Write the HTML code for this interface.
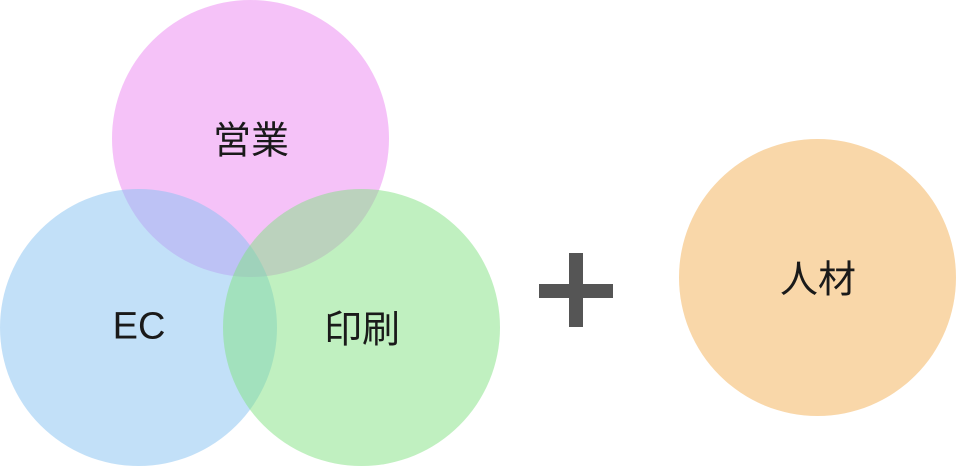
<!DOCTYPE html>
<html><head><meta charset="utf-8"><style>
html,body{margin:0;padding:0;background:#fff;width:956px;height:466px;overflow:hidden;position:relative}
.c{position:absolute;border-radius:50%;width:277px;height:277px}
.t{position:absolute;font-family:"Liberation Sans","Noto Sans CJK JP",sans-serif;font-size:38px;color:#1a1a1a;transform:translate(-50%,-50%);white-space:nowrap}
.b{position:absolute;background:#555}
</style></head><body>
<div class="c" style="left:112px;top:0;background:rgba(235,133,241,0.5)"></div>
<div class="c" style="left:0;top:189px;background:rgba(133,193,241,0.5)"></div>
<div class="c" style="left:223px;top:189px;background:rgba(129,225,129,0.5)"></div>
<div class="c" style="left:679px;top:139px;background:#f9d7a9"></div>
<div class="b" style="left:539px;top:284px;width:74px;height:14px"></div>
<div class="b" style="left:569px;top:253px;width:14px;height:74px"></div>
<div class="t" style="left:251px;top:137px">営業</div>
<div class="t" style="left:139px;top:327px">EC</div>
<div class="t" style="left:362px;top:326px">印刷</div>
<div class="t" style="left:818px;top:276px">人材</div>
</body></html>
